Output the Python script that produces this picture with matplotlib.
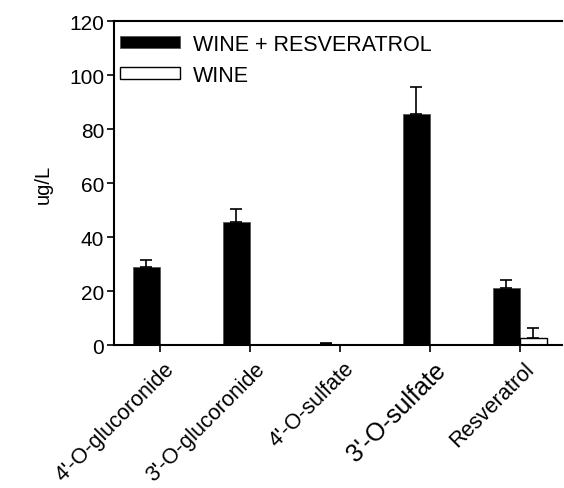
import matplotlib
matplotlib.use('Agg')
import matplotlib.pyplot as plt
import numpy as np

plt.rcParams['font.family'] = ['Liberation Sans', 'DejaVu Sans']

categories = ["4'-O-glucoronide", "3'-O-glucoronide", "4'-O-sulfate", "3'-O-sulfate", "Resveratrol"]
wine_resv = [28.8, 45.5, 0.5, 85.6, 21.0]
wine_resv_err = [2.8, 5.0, 0.2, 10.0, 3.0]
wine = [0.0, 0.0, 0.0, 0.0, 2.6]
wine_err = [0.0, 0.0, 0.0, 0.0, 3.6]
label_sizes = [15.5, 15.5, 15.5, 18, 15.5]

fig = plt.figure(figsize=(5.64, 4.89), dpi=100)
ax = fig.add_axes([0.202, 0.292, 0.794, 0.663])

x = np.arange(len(categories))
w = 0.3
ax.bar(x - w / 2, wine_resv, w, color='black', edgecolor='#555555', linewidth=0.6,
       label='WINE + RESVERATROL')
ax.bar(x + w / 2, wine, w, color='white', edgecolor='black', linewidth=1.0, label='WINE')

err_r = [np.zeros(len(x)), wine_resv_err]
ax.errorbar(x - w / 2, wine_resv, yerr=err_r, fmt='none', ecolor='black',
            elinewidth=1.2, capsize=4, capthick=1.2)
mask = np.array(wine_err) > 0
ax.errorbar((x + w / 2)[mask], np.array(wine)[mask],
            yerr=[np.zeros(mask.sum()), np.array(wine_err)[mask]],
            fmt='none', ecolor='black', elinewidth=1.2, capsize=4, capthick=1.2)

ax.set_xlim(-0.511, 4.467)
ax.set_ylim(0, 120)
ax.set_yticks(np.arange(0, 121, 20))
ax.set_xticks(x)
ax.set_xticklabels([])
for xi, lab, fs in zip(x, categories, label_sizes):
    ax.annotate(lab, xy=(xi, 0), xycoords=('data', 'axes fraction'),
                xytext=(3, -9), textcoords='offset points',
                rotation=45, ha='right', va='top', rotation_mode='anchor', fontsize=fs)

ax.spines['right'].set_visible(False)
for s in ['left', 'bottom', 'top']:
    ax.spines[s].set_linewidth(1.5)
ax.tick_params(axis='both', direction='out', length=5, width=1.2, labelsize=15)
ax.tick_params(axis='y', pad=2)
ax.set_ylabel('ug/L', fontsize=14.5, labelpad=12)

ax.legend(loc='upper left', bbox_to_anchor=(0.0, 0.98), frameon=False, fontsize=15.5,
          handlelength=2.75, handleheight=0.47, borderpad=0, borderaxespad=0.3,
          labelspacing=0.45, handletextpad=0.6)

fig.savefig('out.png', dpi=100)
